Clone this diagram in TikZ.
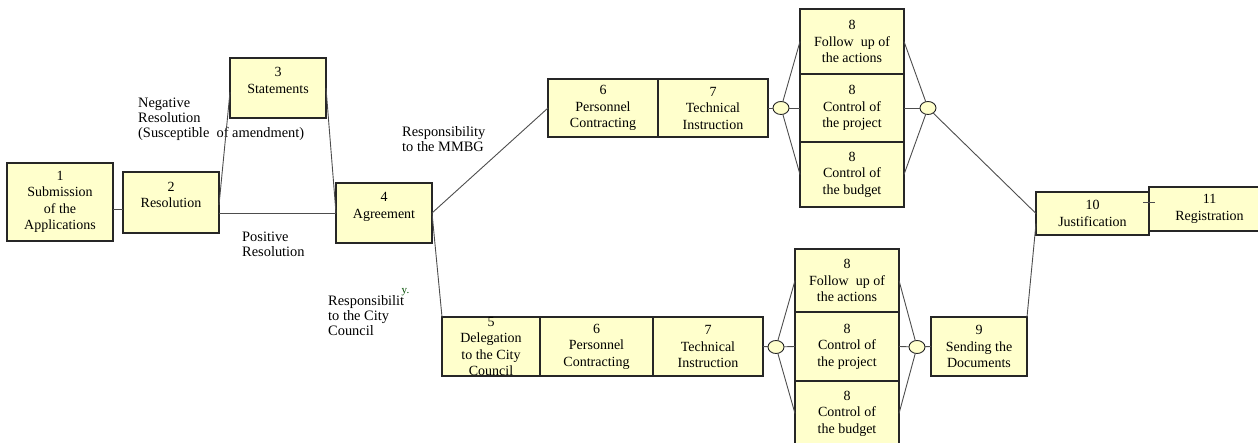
\documentclass[tikz,border=0pt]{standalone}
\usepackage{fontspec}
\setmainfont{Liberation Serif}
\usepackage{xcolor}
\usetikzlibrary{calc,positioning,shapes.geometric}
\definecolor{boxfill}{HTML}{FFFFCC}
\definecolor{boxline}{HTML}{262626}
\definecolor{linkline}{HTML}{4D4D4D}
\tikzset{%
	task/.style   = {draw=boxline, fill=boxfill, rectangle, line width=1.1pt, inner sep=0pt, outer sep=0pt, align=center, font=\fontsize{14}{16.5}\selectfont},
	raised/.style = {text depth=15pt},
	joint/.style  = {draw=boxline, fill=boxfill, ellipse, line width=0.9pt, minimum width=16pt, minimum height=13pt, inner sep=0pt, outer sep=0pt},
	link/.style   = {draw=linkline, line width=0.9pt},
	note/.style   = {anchor=north west, align=left, inner sep=0pt, font=\fontsize{14.4}{15}\selectfont},
}
\newcommand{\ctrl}{Control of}

\begin{document}
\begin{tikzpicture}[x=1pt,y=-1pt]
	\useasboundingbox (0,0) rectangle (1258,443);
	
	\node[note] (neg) at (138,98) {Negative\\Resolution\\(Susceptible\ \ of amendment)};
	\node[note] (pos) at (242,232) {Positive\\Resolution};
	\node[note] (mmbg) at (402,126) {Responsibility\\to the MMBG};
	\node[note] (city) at (328,295) {Responsibilit\\to the City\\Council};
	\node[inner sep=0pt, font=\fontsize{11}{12}\selectfont, text=black!70!green] (cityy) at (405.5,292) {y.};
	
	% application and agreement
	\node[task, minimum width=106pt, minimum height=78pt] (b1) at (60,202) {1\\Submission\\of the\\Applications};
	\node[task, raised, minimum width=96pt, minimum height=61pt] (b2) at (171,202.5) {2\\Resolution};
	\node[task, raised, minimum width=96pt, minimum height=60pt] (b3) at (278,88) {3\\Statements};
	\node[task, raised, minimum width=96pt, minimum height=60pt] (b4) at (384,213) {4\\Agreement};
	
	% responsibility to the MMBG
	\node[task, minimum width=110pt, minimum height=58pt] (u6) at (603,108) {6\\Personnel\\Contracting};
	\node[task, minimum width=110pt, minimum height=58pt] (u7) at (713,108) {7\\Technical\\Instruction};
	\node[task, minimum width=104pt, minimum height=65pt] (u8a) at (852,41.5) {8\\Follow\ \ up of\\the actions};
	\node[task, minimum width=104pt, minimum height=68pt] (u8b) at (852,108) {8\\\ctrl\\the project};
	\node[task, minimum width=104pt, minimum height=65pt] (u8c) at (852,174.5) {8\\\ctrl\\the budget};
	\node[joint] (uL) at (781,108) {};
	\node[joint] (uR) at (928,108) {};
	
	% responsibility to the City Council
	\node[task, minimum width=98pt, minimum height=59pt] (l5) at (491,346.5) {5\\Delegation\\to the City\\Council};
	\node[task, minimum width=113pt, minimum height=59pt] (l6) at (596.5,346.5) {6\\Personnel\\Contracting};
	\node[task, minimum width=110pt, minimum height=59pt] (l7) at (708,346.5) {7\\Technical\\Instruction};
	\node[task, minimum width=104pt, minimum height=63pt] (l8a) at (847,280.5) {8\\Follow\ \ up of\\the actions};
	\node[task, minimum width=104pt, minimum height=69pt] (l8b) at (847,346.5) {8\\\ctrl\\the project};
	\node[task, minimum width=104pt, minimum height=65pt] (l8c) at (847,413.5) {8\\\ctrl\\the budget};
	\node[joint] (lL) at (776,347) {};
	\node[joint] (lR) at (917,347) {};
	\node[task, minimum width=96pt, minimum height=59pt] (b9) at (979,346.5) {9\\Sending the\\Documents};
	
	% closing
	\node[task, minimum width=113pt, minimum height=43pt] (b10) at (1092.5,213.5) {10\\Justification};
	\node[task, minimum width=121pt, minimum height=44pt] (b11) at (1209.5,209) {11\\Registration};
	
	\draw[link] ([yshift=-7pt]b1.east) -- ([yshift=-6.5pt]b2.west);
	\draw[link] ([yshift=-2.5pt]b2.east) -- ([yshift=-4pt]b3.west);
	\draw[link] (b2.east |- b4.west) -- (b4.west);
	\draw[link] (b3.east) -- (b4.west);
	\draw[link] (b4.east) -- (u6.west);
	\draw[link] (b4.east) -- (l5.north west);
	
	\draw[link] (u7.east) -- (uL);
	\draw[link] (l7.east) -- (lL);
	\foreach \n in {u8a,u8b,u8c}{
		\draw[link] (uL) -- (\n.west);
		\draw[link] (\n.east) -- (uR);
	}
	\foreach \n in {l8a,l8b,l8c}{
		\draw[link] (lL) -- (\n.west);
		\draw[link] (\n.east) -- (lR);
	}
	\draw[link] (lR) -- (b9.west);
	\draw[link] (uR) -- (b10.west);
	\draw[link] (b9.north east) -- ([yshift=-10pt]b10.west);
	\draw[link] ([shift={(-6pt,7pt)}]b11.west) -- ([shift={(6pt,7pt)}]b11.west);
\end{tikzpicture}
\end{document}
